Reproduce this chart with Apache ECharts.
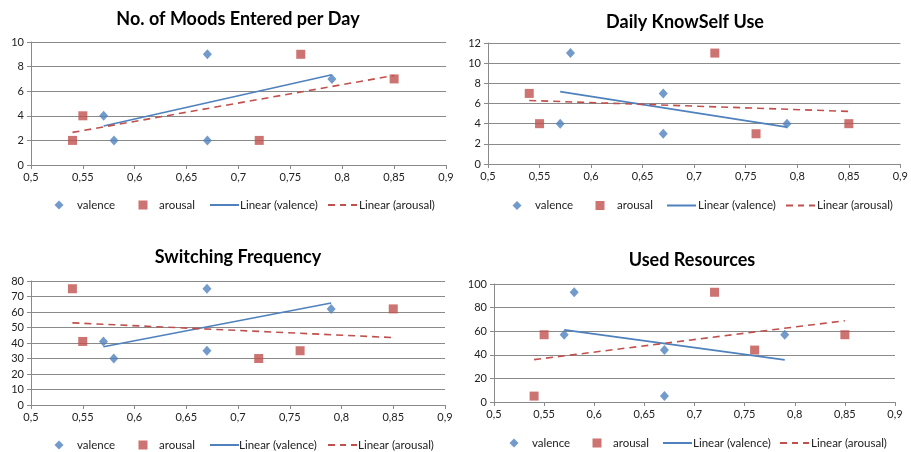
<!DOCTYPE html>
<html><head><meta charset="utf-8">
<script src="https://cdn.jsdelivr.net/npm/echarts@6/dist/echarts.min.js"></script>
<style>html,body{margin:0;padding:0;background:#fff}#c{width:911px;height:452px}</style>
</head><body><div id="c"></div>
<script>
// Titles
const titles = ["No. of Moods Entered per Day", "Daily KnowSelf Use", "Switching Frequency", "Used Resources"];
// x values
const valenceX = [0.57, 0.58, 0.67, 0.67, 0.79];
const arousalX = [0.54, 0.55, 0.72, 0.76, 0.85];
// y values per chart
const moodsValence = [4, 2, 9, 2, 7];
const moodsArousal = [2, 4, 2, 9, 7];
const useValence = [4, 11, 7, 3, 4];
const useArousal = [7, 4, 11, 3, 4];
const switchValence = [41, 30, 75, 35, 62];
const switchArousal = [75, 41, 30, 35, 62];
const resValence = [57, 93, 44, 5, 57];
const resArousal = [5, 57, 93, 44, 57];
// trend line endpoints
const trendValenceX = [0.57, 0.79];
const trendArousalX = [0.54, 0.85];
const moodsTrendValence = [3.17, 7.33];
const moodsTrendArousal = [2.65, 7.28];
const useTrendValence = [7.18, 3.66];
const useTrendArousal = [6.30, 5.22];
const switchTrendValence = [37.6, 65.8];
const switchTrendArousal = [53.0, 43.5];
const resTrendValence = [61.1, 35.7];
const resTrendArousal = [35.9, 68.9];
// y axis ranges
const yMax = [10, 12, 80, 100];
const yInterval = [2, 2, 10, 20];
const legendNames = ["valence", "arousal", "Linear (valence)", "Linear (arousal)"];

const valSets = [moodsValence, useValence, switchValence, resValence];
const aroSets = [moodsArousal, useArousal, switchArousal, resArousal];
const tvSets = [moodsTrendValence, useTrendValence, switchTrendValence, resTrendValence];
const taSets = [moodsTrendArousal, useTrendArousal, switchTrendArousal, resTrendArousal];

const grids = [
  {left: 31, right: 465, top: 42, bottom: 287},
  {left: 488, right: 9, top: 43, bottom: 288},
  {left: 31, right: 466, top: 281, bottom: 47},
  {left: 494, right: 16, top: 284, bottom: 50}
];
const titlePos = [[233, 5], [680, 8], [233, 243], [687, 246]];
// legend layout per chart: [diamondCenter, valenceText, squareCenter, arousalText, lineStart, lineText, dashStart, dashText, centerY]
const legendLayout = [
  [59, 77, 143, 159, 210, 240, 328, 359, 204],
  [517, 535, 600, 617, 667, 698, 786, 817, 204.5],
  [59, 77, 143, 159, 210, 239, 328, 358, 444],
  [514, 532, 597, 613, 663, 693, 780, 811, 442]
];

const BLUE = '#4F81BD', RED = '#C0504D', GRID = '#8a8a8a';
const FONT = 'Lato';
const zip = (xs, ys) => xs.map((x, i) => [x, ys[i]]);
const fmtX = v => { const s = (Math.round(v * 100) / 100).toString(); return s.replace('.', ','); };
const DASH_ICON = 'path://M0,0h7v2h-7z M12,0h6v2h-6z M23,0h6v2h-6z';
const LINE_ICON = 'path://M0,0h29v2h-29z';

const legends = [];
legendLayout.forEach(L => {
  const cy = L[8];
  const mk = (name, icon, left, w, h, textX) => ({
    left: left, top: cy - 5, padding: 0, orient: 'horizontal',
    itemWidth: w, itemHeight: h, selectedMode: false,
    data: [{name: name, icon: icon}],
    textStyle: {fontFamily: FONT, fontSize: 11.5, color: '#222', padding: [0, 0, 0, textX - left - w - 5]}
  });
  legends.push(mk(legendNames[0], 'diamond', L[0] - 4.5, 9, 9, L[1]));
  legends.push(mk(legendNames[1], 'rect', L[2] - 4.5, 9, 9, L[3]));
  legends.push(mk(legendNames[2], LINE_ICON, L[4], 29, 2, L[5]));
  legends.push(mk(legendNames[3], DASH_ICON, L[6], 29, 2, L[7]));
});

const option = {
  animation: false,
  textStyle: {fontFamily: FONT},
  title: titles.map((t, i) => ({
    text: t, left: titlePos[i][0], top: titlePos[i][1], textAlign: 'center',
    textStyle: {fontFamily: FONT, fontWeight: 'bold', fontSize: 18, color: '#000'}
  })),
  grid: grids.map(g => Object.assign({containLabel: false}, g)),
  legend: legends,
  xAxis: grids.map((g, i) => ({
    type: 'value', gridIndex: i, min: 0.5, max: 0.9, interval: 0.05,
    axisLine: {show: true, lineStyle: {color: GRID, width: 1}},
    axisTick: {show: true, length: 4, lineStyle: {color: GRID}},
    splitLine: {show: false},
    axisLabel: {formatter: fmtX, fontFamily: FONT, fontSize: 11, color: '#222', margin: 7}
  })),
  yAxis: grids.map((g, i) => ({
    type: 'value', gridIndex: i, min: 0, max: yMax[i], interval: yInterval[i],
    axisLine: {show: true, lineStyle: {color: GRID, width: 1}},
    axisTick: {show: true, length: 4, lineStyle: {color: GRID}},
    splitLine: {show: true, lineStyle: {color: GRID, width: 1}},
    axisLabel: {fontFamily: FONT, fontSize: 11, color: '#222', margin: 7}
  })),
  series: []
};
for (let i = 0; i < 4; i++) {
  option.series.push({
    name: legendNames[0], type: 'scatter', xAxisIndex: i, yAxisIndex: i,
    symbol: 'diamond', symbolSize: [9, 10], itemStyle: {color: BLUE},
    data: zip(valenceX, valSets[i]), z: 3
  });
  option.series.push({
    name: legendNames[1], type: 'scatter', xAxisIndex: i, yAxisIndex: i,
    symbol: 'rect', symbolSize: 9, itemStyle: {color: RED},
    data: zip(arousalX, aroSets[i]), z: 3
  });
  option.series.push({
    name: legendNames[2], type: 'line', xAxisIndex: i, yAxisIndex: i,
    symbol: 'none', lineStyle: {color: BLUE, width: 1.6}, itemStyle: {color: BLUE},
    data: zip(trendValenceX, tvSets[i]), z: 4
  });
  option.series.push({
    name: legendNames[3], type: 'line', xAxisIndex: i, yAxisIndex: i,
    symbol: 'none', lineStyle: {color: RED, width: 1.6, type: [7, 5]}, itemStyle: {color: RED},
    data: zip(trendArousalX, taSets[i]), z: 4
  });
}
const chart = echarts.init(document.getElementById('c'), null, {renderer: 'canvas'});
chart.setOption(option);
</script></body></html>
